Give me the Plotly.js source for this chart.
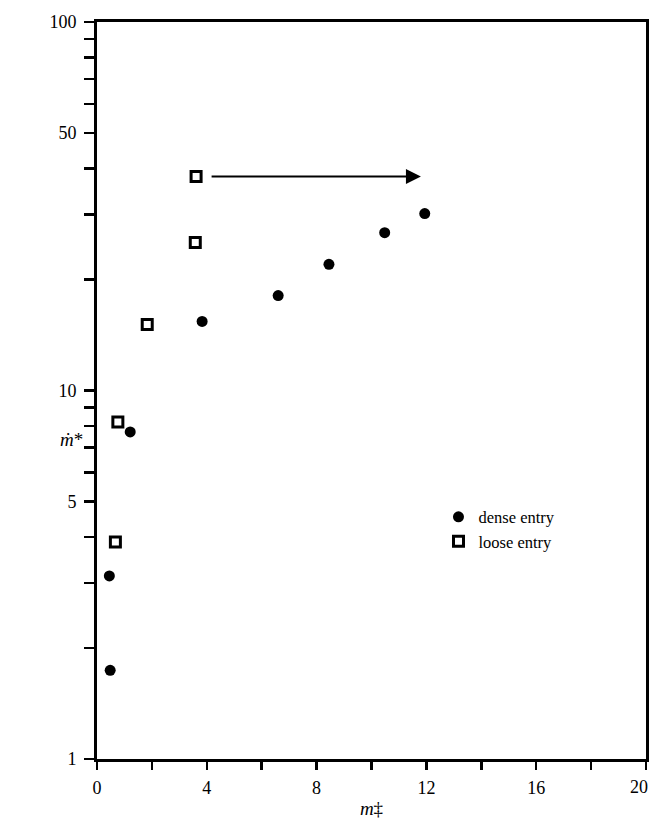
<!DOCTYPE html>
<html>
<head>
<meta charset="utf-8">
<script src="https://cdn.plot.ly/plotly-3.0.1.min.js"></script>
<style>html,body{margin:0;padding:0;background:#fff;}#chart{width:650px;height:830px;}</style>
</head>
<body>
<div id="chart"></div>
<script>
// Data
const denseX = [0.48, 0.45, 1.21, 3.83, 6.6, 8.45, 10.48, 11.94];
const denseY = [1.74, 3.14, 7.72, 15.4, 18.1, 22.0, 26.8, 30.2];
const looseX = [0.67, 0.76, 1.83, 3.58, 3.61];
const looseY = [3.88, 8.21, 15.1, 25.2, 38.1];
const seriesNames = ["dense entry", "loose entry"];
const arrowFrom = [4.12, 38.1];
const arrowTo = [11.8, 38.1];

const yTickVals = [1,2,3,4,5,6,7,8,9,10,20,30,40,50,60,70,80,90,100];
const yTickText = ["1","","","","5","","","","","10","","","","50","","","","","100"];
const xTickVals = [0,2,4,6,8,10,12,14,16,18,20];
const xTickText = ["0","","4","","8","","12","","16","",""];
const xLastLabel = "20";

const font = {family: "Liberation Serif, Times New Roman, serif", color: "#000", size: 16};
const tickFont = {family: font.family, color: "#000", size: 18};

const traces = [
  {x: denseX, y: denseY, name: seriesNames[0], type: "scatter", mode: "markers",
   marker: {symbol: "circle", size: 11, color: "#000"}},
  {x: looseX, y: looseY, name: seriesNames[1], type: "scatter", mode: "markers",
   marker: {symbol: "square-open", size: 10, color: "#000", line: {width: 3, color: "#000"}}}
];

const layout = {
  width: 650, height: 830,
  margin: {l: 97, r: 4, t: 22, b: 71},
  paper_bgcolor: "#fff", plot_bgcolor: "#fff",
  font: font,
  showlegend: true,
  legend: {x: 0.622, y: 0.352, xanchor: "left", yanchor: "top", bgcolor: "rgba(0,0,0,0)",
           font: {family: font.family, size: 16.5, color: "#000"}, itemwidth: 30, tracegroupgap: 0},
  xaxis: {range: [0, 20], tickmode: "array", tickvals: xTickVals, ticktext: xTickText,
          showgrid: false, zeroline: false, showline: true, mirror: true, linewidth: 3, linecolor: "#000",
          ticks: "outside", ticklen: 8, tickwidth: 2.5, tickcolor: "#000", tickfont: tickFont,
          ticklabelstandoff: 2,
          title: {text: "<i>m</i>‡", font: {family: font.family, size: 19, color: "#000"}, standoff: 6}},
  yaxis: {type: "log", range: [0, 2], tickmode: "array", tickvals: yTickVals, ticktext: yTickText,
          showgrid: false, zeroline: false, showline: true, mirror: true, linewidth: 3, linecolor: "#000",
          ticks: "outside", ticklen: 10, tickwidth: 2.5, tickcolor: "#000", tickfont: tickFont,
          ticklabelstandoff: 4, title: {text: ""}},
  annotations: [
    {x: arrowTo[0], y: Math.log10(arrowTo[1]), ax: arrowFrom[0], ay: Math.log10(arrowFrom[1]),
     xref: "x", yref: "y", axref: "x", ayref: "y", text: "", showarrow: true,
     arrowhead: 2, arrowsize: 1.5, arrowwidth: 2, arrowcolor: "#000"},
    {xref: "paper", yref: "paper", x: -0.022, y: 0.434, xanchor: "right", yanchor: "middle",
     text: "<i>ṁ</i>*", showarrow: false, font: {family: font.family, size: 19, color: "#000"}},
    {xref: "paper", yref: "paper", x: 1, y: 0, xanchor: "right", yanchor: "middle",
     xshift: 3, yshift: -28, borderpad: 0,
     text: xLastLabel, showarrow: false, font: tickFont}
  ]
};

Plotly.newPlot("chart", traces, layout, {displayModeBar: false, staticPlot: true});
</script>
</body>
</html>
